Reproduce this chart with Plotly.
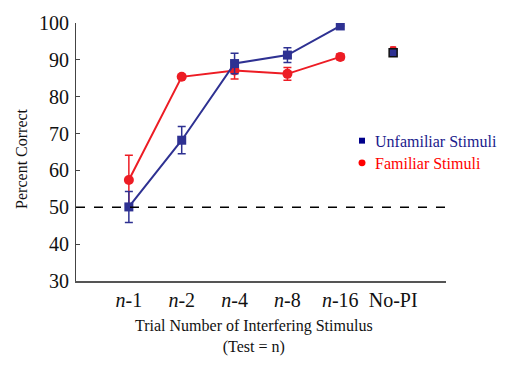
import plotly.graph_objects as go

categories = ["<i>n</i>-1", "<i>n</i>-2", "<i>n</i>-4", "<i>n</i>-8", "<i>n</i>-16", "No-PI"]
unfam = [50.1, 68.2, 89.0, 91.3, 99.2]
unfam_err = [4.2, 3.7, 2.8, 2.0, 0.0]
fam = [57.4, 85.4, 87.1, 86.2, 90.8]
fam_err = [6.7, 0.0, 2.3, 1.7, 0.8]
nopi_unfam = 91.9
nopi_fam = 92.6
nopi_fam_err = 0.9
chance = 50
legend_names = ["Unfamiliar Stimuli", "Familiar Stimuli"]

BLUE = "#2e3192"
RED = "#ed1c24"
FONT = "Liberation Serif, Times New Roman, serif"

x_idx = list(range(len(categories)))

fig = go.Figure()
fig.add_trace(go.Scatter(
    x=x_idx[:5], y=fam, mode="lines+markers",
    line=dict(color=RED, width=2),
    marker=dict(symbol="circle", size=10, color=RED),
    error_y=dict(type="data", array=fam_err, color=RED, thickness=1.5, width=4),
    showlegend=False))
fig.add_trace(go.Scatter(
    x=x_idx[:5], y=unfam, mode="lines+markers",
    line=dict(color=BLUE, width=2),
    marker=dict(symbol="square", size=9, color=BLUE),
    error_y=dict(type="data", array=unfam_err, color=BLUE, thickness=1.5, width=4),
    showlegend=False))
fig.add_trace(go.Scatter(
    x=[x_idx[5]], y=[nopi_fam], mode="markers",
    marker=dict(symbol="circle", size=8, color=RED),
    error_y=dict(type="data", array=[nopi_fam_err], color=RED, thickness=1.5, width=3),
    showlegend=False))
fig.add_trace(go.Scatter(
    x=[x_idx[5]], y=[nopi_unfam], mode="markers",
    marker=dict(symbol="square", size=8, color=BLUE, line=dict(color="#111", width=1.5)),
    showlegend=False))

fig.add_shape(type="line", xref="paper", yref="y", x0=0, x1=1, y0=chance, y1=chance,
              line=dict(color="black", width=1.5, dash="dash"))

# custom legend (paper coords): plot area x 76..446, y 19..281
PW, PH, L, T = 370.0, 262.0, 76.0, 19.0
def px(x):
    return (x - L) / PW
def py(y):
    return 1 - (y - T) / PH

leg = [(legend_names[0], "#00008b", "#1a1a8c", "square", 138.5),
       (legend_names[1], "#ff0000", "#ff0000", "circle", 161)]
for name, mcol, tcol, sym, yy in leg:
    if sym == "square":
        fig.add_shape(type="rect", xref="paper", yref="paper",
                      x0=px(359), x1=px(365), y0=py(yy - 3), y1=py(yy + 3),
                      fillcolor=mcol, line=dict(width=0))
    else:
        fig.add_shape(type="circle", xref="paper", yref="paper",
                      x0=px(358.5), x1=px(365.5), y0=py(yy - 3.5), y1=py(yy + 3.5),
                      fillcolor=mcol, line=dict(width=0))
    fig.add_annotation(text=name, xref="paper", yref="paper", x=px(373), y=py(yy + 1),
                       xanchor="left", yanchor="middle", showarrow=False,
                       font=dict(family=FONT, size=16, color=tcol))

fig.add_annotation(text="Trial Number of Interfering Stimulus<br>(Test = n)",
                   xref="paper", yref="paper", x=px(254), y=py(316), yanchor="top",
                   showarrow=False, font=dict(family=FONT, size=16, color="#111"))
fig.add_annotation(text="Percent Correct", textangle=-90,
                   xref="paper", yref="paper", x=px(22), y=py(157), xanchor="center",
                   yanchor="middle",
                   showarrow=False, font=dict(family=FONT, size=16, color="#111"))

fig.update_layout(
    width=510, height=369,
    margin=dict(l=76, r=64, t=19, b=88),
    paper_bgcolor="white", plot_bgcolor="white",
    font=dict(family=FONT, size=20, color="#111"),
    showlegend=False,
    xaxis=dict(range=[-1, 6], tickmode="array", tickvals=x_idx, ticktext=categories,
               tickfont=dict(family=FONT, size=20, color="#111"),
               showgrid=False, zeroline=False, showline=True, linecolor="#555", linewidth=1.5,
               ticks=""),
    yaxis=dict(range=[30, 100], tickvals=[30, 40, 50, 60, 70, 80, 90, 100],
               tickfont=dict(family=FONT, size=20, color="#111"),
               showgrid=False, zeroline=False, showline=True, linecolor="#444", linewidth=1,
               ticks="inside", ticklen=4, tickcolor="#444", ticklabelstandoff=2),
)

fig.write_html("out.html")
